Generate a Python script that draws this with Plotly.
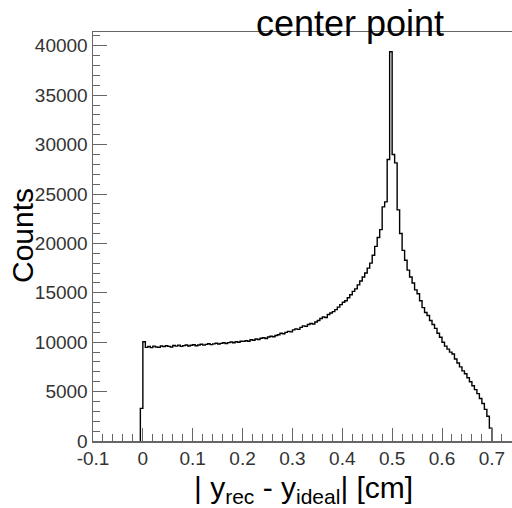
import numpy as np
import plotly.graph_objects as go

# Histogram: bin width 0.005, first bin lower edge -0.005
bin_width = 0.005
first_edge = -0.005
counts = [
    3300,
    10050, 9480, 9560, 9450, 9600, 9520, 9480, 9610, 9550, 9640,
    9580, 9520, 9660, 9600, 9700, 9580, 9650, 9720, 9610, 9690,
    9750, 9640, 9720, 9800, 9700, 9780, 9850, 9760, 9830, 9900,
    9820, 9880, 9950, 9870, 9960, 10020, 9940, 10050, 10000, 10100,
    10080, 10150, 10100, 10250, 10200, 10320, 10280, 10400, 10450, 10380,
    10520, 10600, 10550, 10680, 10750, 10900, 10850, 11000, 11100, 11050,
    11250, 11350, 11300, 11500, 11650, 11600, 11800, 11900, 11850, 12050,
    12200, 12400, 12550, 12500, 12800, 12950, 13100, 13300, 13550, 13800,
    14050, 14200, 14500, 14800, 15150, 15400, 15800, 16200, 16600, 17000,
    17500, 18000, 18800, 19700, 20600, 21400, 23700, 24200, 28500, 39400,
    29000, 28150, 23400, 21000, 19300, 18300, 17300, 16600, 16000, 15300,
    14900, 14200, 13500, 13000, 12700, 12200, 11800, 11400, 10900, 10500,
    10000, 9600, 9300, 9000, 8800, 8300, 7900, 7500, 7100, 6800,
    6400, 6000, 5600, 5200, 4800, 4300, 3800, 3200, 2500, 1300,
]
x_tick_vals = [-0.1, 0, 0.1, 0.2, 0.3, 0.4, 0.5, 0.6, 0.7]
x_tick_text = ["-0.1", "0", "0.1", "0.2", "0.3", "0.4", "0.5", "0.6", "0.7"]
y_tick_vals = [0, 5000, 10000, 15000, 20000, 25000, 30000, 35000, 40000]
y_tick_text = ["0", "5000", "10000", "15000", "20000", "25000", "30000", "35000", "40000"]

lower_edges = first_edge + bin_width * np.arange(len(counts))
upper_last = lower_edges[-1] + bin_width
xs = [first_edge] + list(lower_edges) + [upper_last]
ys = [0] + counts + [0]

FONT = "Liberation Sans, Arial, Helvetica, sans-serif"

fig = go.Figure()
fig.add_trace(go.Scatter(
    x=xs, y=ys, mode="lines", line=dict(shape="hv", color="black", width=1.4),
    hoverinfo="skip", showlegend=False,
))

axis_common = dict(
    showgrid=False, zeroline=False, showline=True, linecolor="#666", linewidth=1.5,
    ticks="inside", tickcolor="#666", tickwidth=1, automargin=False,
    tickfont=dict(family=FONT, size=19, color="#333"),
)

L, R, T, B = 93, 0, 32, 67
PW, PH = 512 - L - R, 508 - T - B

def px_to_paper(px, py):
    return (px - L) / PW, (508 - B - py) / PH

fig.update_layout(
    width=512, height=508,
    margin=dict(l=L, r=R, t=T, b=B, autoexpand=False),
    paper_bgcolor="white", plot_bgcolor="white",
    xaxis=dict(
        range=[-0.1, 0.7404], tickvals=x_tick_vals, ticktext=x_tick_text,
        ticklen=13, mirror=True,
        minor=dict(ticks="inside", ticklen=7, dtick=0.02, tick0=0, tickcolor="#666", tickwidth=1, showgrid=False),
        **axis_common,
    ),
    yaxis=dict(
        range=[0, 41400], tickvals=y_tick_vals, ticktext=y_tick_text,
        ticklen=14, mirror=False,
        minor=dict(ticks="inside", ticklen=7, dtick=1000, tick0=0, tickcolor="#666", tickwidth=1, showgrid=False),
        **axis_common,
    ),
)

tx, ty = px_to_paper(350, 23)
xx, xy = px_to_paper(303, 489)
cx, cy = px_to_paper(22, 236)
fig.update_layout(annotations=[
    dict(text="center point", x=tx, y=ty, xref="paper", yref="paper",
         showarrow=False, font=dict(family=FONT, size=36, color="black"),
         xanchor="center", yanchor="middle"),
    dict(text="| y<sub>rec</sub> - y<sub>ideal</sub>| [cm]", x=xx, y=xy,
         xref="paper", yref="paper", showarrow=False,
         font=dict(family=FONT, size=30, color="black"),
         xanchor="center", yanchor="middle"),
    dict(text="Counts", x=cx, y=cy, xref="paper", yref="paper",
         showarrow=False, textangle=-90,
         font=dict(family=FONT, size=30, color="black"),
         xanchor="center", yanchor="middle"),
])

fig.write_html(
    "out.html",
    config={"displayModeBar": False, "staticPlot": True},
    post_script="document.body.style.margin='0';document.body.style.overflow='hidden';",
)
